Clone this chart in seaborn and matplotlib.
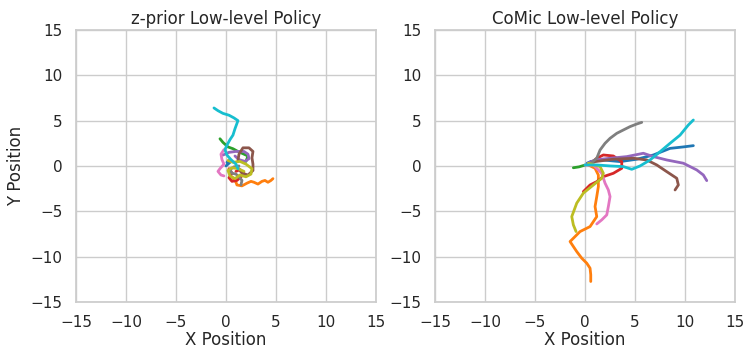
import numpy as np
import pandas as pd
import matplotlib
matplotlib.use("Agg")
import matplotlib.pyplot as plt
import seaborn as sns

# ---- z-prior low-level policy rollouts (x, y) ----
zp_blue_x = [0.0, 0.2, 0.4, 0.3, 0.1]
zp_blue_y = [0.0, 0.2, 0.4, 0.6, 0.4]
zp_orange_x = [0.6, 1.0, 1.1, 1.6, 2.1, 2.5, 2.8, 3.2, 3.6, 3.9, 4.2, 4.5, 4.7]
zp_orange_y = [-1.2, -1.8, -2.1, -2.2, -1.9, -1.7, -1.8, -2.0, -1.7, -1.6, -1.8, -1.6, -1.4]
zp_green_x = [-0.6, -0.3, 0.2, 0.7, 1.2, 1.8, 2.2, 2.0]
zp_green_y = [3.0, 2.6, 2.1, 1.9, 1.6, 1.3, 1.1, 0.5]
zp_red_x = [0.3, 0.6, 0.3, 0.6, 1.1, 1.5, 1.8, 1.4, 1.0]
zp_red_y = [-0.3, -0.8, -1.3, -1.7, -1.6, -1.2, -0.8, -0.4, -0.6]
zp_purple_x = [-0.3, 0.3, 1.0, 1.8, 2.2, 2.3, 1.9, 1.3, 0.9]
zp_purple_y = [1.2, 1.5, 1.6, 1.6, 1.3, 0.8, 0.5, 0.7, 1.1]
zp_brown_x = [1.2, 1.3, 1.7, 2.3, 2.7, 2.6, 2.7, 2.7, 2.2, 1.6, 1.2]
zp_brown_y = [0.6, 1.3, 2.0, 2.0, 1.6, 0.9, 0.2, -0.5, -1.0, -0.8, -0.2]
zp_pink_x = [-0.2, -0.5, -0.4, -0.2, -0.6, -0.8, -0.5, -0.2]
zp_pink_y = [1.8, 1.3, 0.7, 0.2, -0.3, -0.6, -1.0, -1.1]
zp_gray_x = [1.5, 1.6, 1.3, 1.0, 0.6, 0.4, 0.8, 1.3]
zp_gray_y = [-2.1, -1.6, -1.2, -0.9, -0.8, -0.4, -0.1, 0.0]
zp_olive_x = [0.2, 0.7, 1.4, 2.0, 2.6, 2.5, 2.0, 1.4, 0.9, 0.4, 0.2, 0.6, 1.2, 1.8]
zp_olive_y = [0.6, 0.4, 0.5, 0.2, -0.3, -0.9, -1.2, -1.0, -1.4, -1.1, -0.5, -0.2, -0.3, -0.6]
zp_cyan_x = [1.2, 1.0, 0.5, 0.1, -0.1, 0.1, 0.4, 0.7, 0.9, 1.2, 0.8, 0.3, -0.3, -0.8, -1.2]
zp_cyan_y = [-0.3, 0.2, 0.7, 1.2, 1.8, 2.3, 2.9, 3.4, 4.1, 5.0, 5.3, 5.6, 5.8, 6.1, 6.4]

# ---- CoMic low-level policy rollouts (x, y) ----
cm_blue_x = [0.2, 0.6, 1.8, 3.5, 5.17, 6.83, 8.5, 9.83, 10.83]
cm_blue_y = [0.3, 0.5, 0.66, 0.48, 0.74, 1.21, 1.94, 2.1, 2.24]
cm_orange_x = [0.33, 1.0, 1.33, 1.33, 1.17, 1.0, 1.17, 0.5, -0.5, -1.17, -1.5, -1.17,
               -0.83, -0.33, 0.17, 0.5, 0.57, 0.57]
cm_orange_y = [0.11, -0.26, -1.0, -2.28, -3.38, -4.48, -5.59, -6.69, -7.24, -7.98, -8.34,
               -8.89, -9.45, -10.18, -10.73, -11.28, -12.0, -12.75]
cm_green_x = [0.0, -0.6, -1.17]
cm_green_y = [0.1, -0.1, -0.2]
cm_red_x = [0.6, 1.17, 1.83, 2.83, 3.67, 3.67, 2.83, 1.83, 1.17, 0.5, -0.17]
cm_red_y = [0.3, 0.85, 1.21, 1.1, 0.48, -0.26, -0.81, -1.18, -1.73, -2.1, -2.83]
cm_purple_x = [0.3, 1.0, 2.5, 4.17, 5.83, 6.83, 8.17, 9.83, 11.17, 11.83, 12.17]
cm_purple_y = [0.3, 0.66, 0.85, 1.03, 1.4, 1.03, 0.66, 0.3, -0.44, -1.0, -1.62]
cm_brown_x = [0.3, 1.0, 2.83, 4.83, 6.17, 7.17, 8.17, 9.17, 9.33, 9.0]
cm_brown_y = [0.2, 0.48, 0.74, 0.85, 0.66, 0.11, -0.63, -1.36, -2.1, -2.65]
cm_pink_x = [0.0, 0.83, 1.67, 2.0, 2.33, 2.5, 2.33, 2.17, 1.67, 1.17]
cm_pink_y = [0.1, 0.11, -0.81, -1.9, -2.65, -3.38, -4.48, -5.4, -5.95, -6.4]
cm_gray_x = [0.5, 1.17, 1.5, 2.0, 2.5, 3.17, 3.83, 4.5, 5.17, 5.67]
cm_gray_y = [0.2, 0.85, 1.76, 2.5, 3.05, 3.6, 3.97, 4.34, 4.63, 4.81]
cm_olive_x = [0.33, 1.5, 1.83, 1.67, 0.83, -0.17, -0.83, -1.33, -1.17, -0.9]
cm_olive_y = [0.29, -0.07, -0.81, -1.36, -2.1, -3.0, -4.1, -5.59, -6.5, -7.24]
cm_cyan_x = [0.0, 1.17, 2.5, 3.83, 4.67, 5.5, 6.5, 7.5, 8.5, 9.5, 10.33, 10.83]
cm_cyan_y = [0.11, 0.11, 0.0, -0.07, -0.37, 0.0, 0.66, 1.57, 2.5, 3.4, 4.52, 5.07]

zprior = [(zp_blue_x, zp_blue_y), (zp_orange_x, zp_orange_y), (zp_green_x, zp_green_y),
          (zp_red_x, zp_red_y), (zp_purple_x, zp_purple_y), (zp_brown_x, zp_brown_y),
          (zp_pink_x, zp_pink_y), (zp_gray_x, zp_gray_y), (zp_olive_x, zp_olive_y),
          (zp_cyan_x, zp_cyan_y)]
comic = [(cm_blue_x, cm_blue_y), (cm_orange_x, cm_orange_y), (cm_green_x, cm_green_y),
         (cm_red_x, cm_red_y), (cm_purple_x, cm_purple_y), (cm_brown_x, cm_brown_y),
         (cm_pink_x, cm_pink_y), (cm_gray_x, cm_gray_y), (cm_olive_x, cm_olive_y),
         (cm_cyan_x, cm_cyan_y)]

ticks = [-15, -10, -5, 0, 5, 10, 15]


def to_frame(trajs):
    rows = []
    for i, (xs, ys) in enumerate(trajs):
        for step, (x, y) in enumerate(zip(xs, ys)):
            rows.append({"traj": i, "step": step, "x": x, "y": y})
    return pd.DataFrame(rows)


sns.set_theme(style="whitegrid", context="notebook")
palette = sns.color_palette("tab10", 10)

fig, axes = plt.subplots(1, 2, figsize=(7.47, 3.49), dpi=100)
fig.subplots_adjust(left=0.1017, right=0.984, bottom=0.135, top=0.914, wspace=0.197)

for ax, trajs, title in zip(axes, [zprior, comic],
                            ["z-prior Low-level Policy", "CoMic Low-level Policy"]):
    df = to_frame(trajs)
    sns.lineplot(data=df, x="x", y="y", hue="traj", units="traj", estimator=None,
                 sort=False, palette=palette, linewidth=2, legend=False, ax=ax)
    ax.set_xlim(-15, 15)
    ax.set_ylim(-15, 15)
    ax.set_xticks(ticks)
    ax.set_yticks(ticks)
    ax.set_title(title, fontsize=12, pad=4)
    ax.set_xlabel("X Position", fontsize=12, labelpad=1)
    ax.set_ylabel("")

axes[0].set_ylabel("Y Position", fontsize=12)

fig.savefig("out.png", dpi=100)
